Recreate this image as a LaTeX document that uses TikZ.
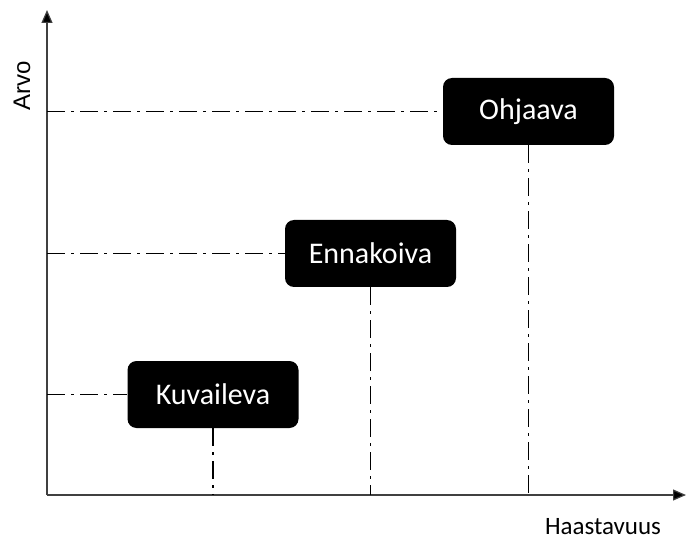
\documentclass[tikz,border=0pt]{standalone}
\usepackage{fontspec}
\setmainfont{Carlito}
\newfontfamily\arialfont{Liberation Sans}
\usetikzlibrary{arrows.meta}
\begin{document}
\begin{tikzpicture}[x=1pt,y=-1pt,
  level/.style={fill=black,rounded corners=9pt,minimum width=171pt,minimum height=67pt,
    text=white,font=\fontsize{30}{33}\selectfont,inner sep=0pt},
  axis/.style={line width=1.2pt,draw=black!75,-{Triangle[length=13pt,width=11pt,fill=black]}},
  guide/.style={line width=1.7pt,dash pattern=on 18pt off 6pt on 3pt off 6pt}]
\useasboundingbox (0,0) rectangle (686,540);
% axes
\coordinate (o) at (47,495);
\coordinate (ytop) at (47,10);
\coordinate (xend) at (686,495);
\draw[axis] (o) -- (ytop);
\draw[axis] (o) -- (xend);
% levels
\node[level] (k) at (213,394.5) {Kuvaileva};
\node[level] (e) at (370.5,253.5) {Ennakoiva};
\node[level] (h) at (528.5,111.5) {Ohjaava};
% guide lines to the axes
\coordinate (ky) at (47,394.5);
\coordinate (ey) at (47,253.5);
\coordinate (hy) at (47,111.5);
\coordinate (kx) at (213,495);
\coordinate (ex) at (370.5,495);
\coordinate (hx) at (528.5,495);
\draw[guide] (ky) -- (k.west);
\draw[guide] (ey) -- (e.west);
\draw[guide] (hy) -- (h.west);
\draw[guide] (k.south) -- (kx);
\draw[guide] (e.south) -- (ex);
\draw[guide] (h.south) -- (hx);
% axis labels
\node[rotate=90,font=\arialfont\fontsize{24}{26}\selectfont,inner sep=0pt] (ylab) at (22,86) {Arvo};
\node[font=\fontsize{25}{27}\selectfont,inner sep=0pt] (xlab) at (603,527) {Haastavuus};
\end{tikzpicture}
\end{document}
